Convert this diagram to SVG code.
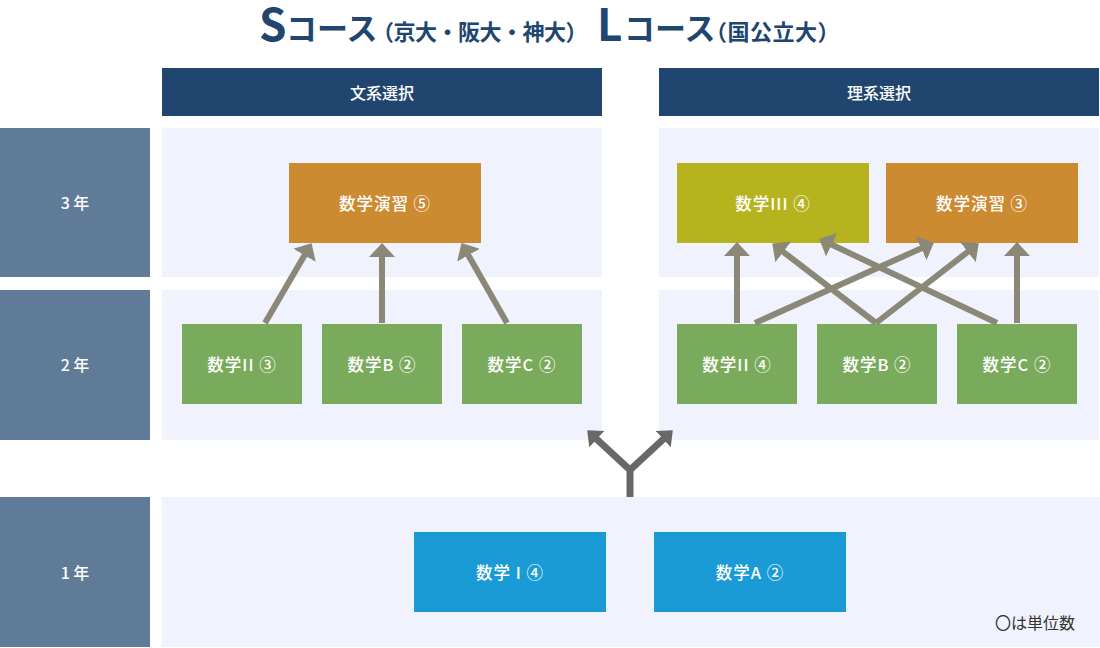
<svg xmlns="http://www.w3.org/2000/svg" width="1100" height="648" viewBox="0 0 1100 648">
<style>
text{font-family:"Noto Sans CJK JP","Noto Sans",sans-serif;}
.title{fill:#20466f;font-weight:700;}
.hdr{fill:#20466f;}
.hdrt{fill:#ffffff;font-size:16px;font-weight:500;text-anchor:middle;dominant-baseline:central;}
.yr{fill:#607b97;}
.yrt{fill:#ffffff;font-size:16px;font-weight:500;text-anchor:middle;dominant-baseline:central;}
.panel{fill:#f0f3fd;}
.nt{fill:#ffffff;font-size:16.5px;font-weight:500;letter-spacing:1px;text-anchor:middle;dominant-baseline:central;}
.orange{fill:#cc8a31;}
.olive{fill:#b6b31f;}
.green{fill:#7aab5c;}
.blue{fill:#1a9bd6;}
.arr{stroke:#8b8878;stroke-width:6;fill:none;marker-end:url(#ah);}
.fork{stroke:#686868;stroke-width:7;fill:none;}
.note{fill:#333333;font-size:16px;}
</style>
<defs>
<marker id="ah" markerUnits="userSpaceOnUse" markerWidth="14" markerHeight="26" viewBox="0 0 14 26" refX="1" refY="13" orient="auto">
<path d="M0,0 L14,13 L0,26 z" fill="#8b8878"/>
</marker>
<marker id="fh" markerUnits="userSpaceOnUse" markerWidth="13" markerHeight="22" viewBox="0 0 13 22" refX="1" refY="11" orient="auto">
<path d="M0,0 L13,11 L0,22 z" fill="#686868"/>
</marker>
</defs>

<g id="title">
<text class="title" x="259" y="41" font-size="44">S</text>
<text class="title" x="286" y="40" font-size="31">コース</text>
<text class="title" x="372" y="40" font-size="22" letter-spacing="-0.5">（京大・阪大・神大）</text>
<text class="title" x="597" y="41" font-size="44">L</text>
<text class="title" x="624" y="40" font-size="31">コース</text>
<text class="title" x="705" y="40" font-size="22" letter-spacing="0.5">（国公立大）</text>
</g>

<g id="header-bunkei"><rect class="hdr" x="162" y="68" width="440" height="48"/><text class="hdrt" x="382" y="92">文系選択</text></g>
<g id="header-rikei"><rect class="hdr" x="659" y="68" width="440" height="48"/><text class="hdrt" x="879" y="92">理系選択</text></g>

<g id="year3"><rect class="yr" x="0" y="128" width="150" height="149"/><text class="yrt" x="75" y="202">3 年</text></g>
<g id="year2"><rect class="yr" x="0" y="290" width="150" height="150"/><text class="yrt" x="75" y="364">2 年</text></g>
<g id="year1"><rect class="yr" x="0" y="497" width="150" height="150"/><text class="yrt" x="75" y="572">1 年</text></g>

<g id="panels">
<rect class="panel" x="162" y="128" width="440" height="149"/>
<rect class="panel" x="659" y="128" width="440" height="149"/>
<rect class="panel" x="162" y="290" width="440" height="150"/>
<rect class="panel" x="659" y="290" width="440" height="150"/>
<rect class="panel" x="162" y="497" width="938" height="150"/>
</g>

<g id="node-L-enshu"><rect class="orange" x="289" y="163" width="192" height="80"/><text class="nt" x="385" y="203">数学演習 ⑤</text></g>
<g id="node-L-math2"><rect class="green" x="182" y="324" width="120" height="80"/><text class="nt" x="242" y="364">数学II ③</text></g>
<g id="node-L-mathB"><rect class="green" x="322" y="324" width="120" height="80"/><text class="nt" x="382" y="364">数学B ②</text></g>
<g id="node-L-mathC"><rect class="green" x="462" y="324" width="120" height="80"/><text class="nt" x="522" y="364">数学C ②</text></g>

<g id="node-R-math3"><rect class="olive" x="677" y="163" width="192" height="80"/><text class="nt" x="773" y="203">数学III ④</text></g>
<g id="node-R-enshu"><rect class="orange" x="886" y="163" width="192" height="80"/><text class="nt" x="982" y="203">数学演習 ③</text></g>
<g id="node-R-math2"><rect class="green" x="677" y="324" width="120" height="80"/><text class="nt" x="737" y="364">数学II ④</text></g>
<g id="node-R-mathB"><rect class="green" x="817" y="324" width="120" height="80"/><text class="nt" x="877" y="364">数学B ②</text></g>
<g id="node-R-mathC"><rect class="green" x="957" y="324" width="120" height="80"/><text class="nt" x="1017" y="364">数学C ②</text></g>

<g id="node-math1"><rect class="blue" x="414" y="532" width="192" height="80"/><text class="nt" x="510" y="572">数学 I ④</text></g>
<g id="node-mathA"><rect class="blue" x="654" y="532" width="192" height="80"/><text class="nt" x="750" y="572">数学A ②</text></g>

<g id="connectors">
<line class="arr" x1="265" y1="323" x2="305" y2="254.4"/>
<line class="arr" x1="382" y1="323" x2="382" y2="256"/>
<line class="arr" x1="507" y1="323" x2="467.9" y2="254.4"/>
<line class="arr" x1="737" y1="323" x2="737" y2="255"/>
<line class="arr" x1="755" y1="323" x2="922.1" y2="247.9"/>
<line class="arr" x1="876" y1="323" x2="782.5" y2="251.3"/>
<line class="arr" x1="876" y1="323" x2="968.5" y2="251.3"/>
<line class="arr" x1="997" y1="323" x2="830.8" y2="244.2"/>
<line class="arr" x1="1017" y1="323" x2="1017" y2="255"/>
<path class="fork" d="M630,497 V470 L596,438.5" marker-end="url(#fh)"/>
<path class="fork" d="M630,470 L664,438.5" marker-end="url(#fh)"/>
</g>

<text class="note" x="995" y="629">〇は単位数</text>
</svg>
